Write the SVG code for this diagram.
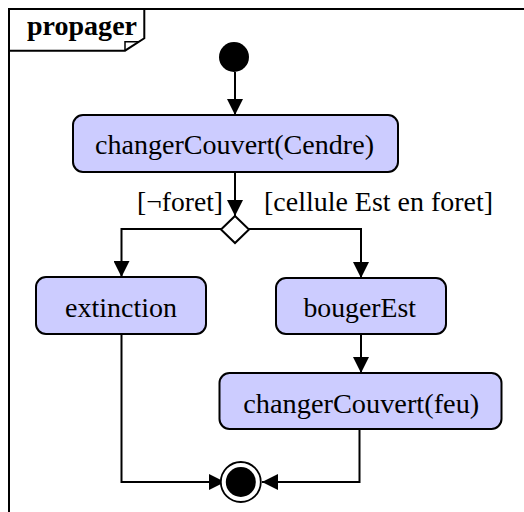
<svg xmlns="http://www.w3.org/2000/svg" width="524" height="512" viewBox="0 0 524 512">
<style>
.act{fill:#ccccff;stroke:#000;stroke-width:2}
.t{font-family:'Liberation Serif','Times New Roman',serif;font-size:28px;fill:#000}
.c{fill:none;stroke:#000;stroke-width:2}
</style>
<defs>
<marker id="ah" markerUnits="userSpaceOnUse" markerWidth="16" markerHeight="16" viewBox="0 0 14 14" refX="14" refY="7" orient="auto">
<path d="M0,0 L14,7 L0,14 Z" fill="#000"/>
</marker>
</defs>
<rect width="524" height="512" fill="#fff"/>
<g id="frame">
<rect x="9" y="9" width="620" height="620" fill="none" stroke="#000" stroke-width="2"/>
<path d="M9,50.7 H125 L144.3,38.3 V9" fill="none" stroke="#000" stroke-width="2"/>
<path d="M125,50.7 V41.7 H138.8" fill="none" stroke="#000" stroke-width="1.5"/>
<text x="27" y="35" class="t" font-weight="bold" textLength="110" lengthAdjust="spacingAndGlyphs">propager</text>
</g>
<g id="connectors">
<path class="c" d="M235,72 V115" marker-end="url(#ah)"/>
<path class="c" d="M235,172 V216" marker-end="url(#ah)"/>
<path class="c" d="M221,229 H121.5 V277" marker-end="url(#ah)"/>
<path class="c" d="M249,229 H361 V278" marker-end="url(#ah)"/>
<path class="c" d="M361,334 V373" marker-end="url(#ah)"/>
<path class="c" d="M121.5,334 V482 H225" marker-end="url(#ah)"/>
<path class="c" d="M359.5,429 V482 H262" marker-end="url(#ah)"/>
<text x="137" y="211" class="t" textLength="86" lengthAdjust="spacingAndGlyphs">[¬foret]</text>
<text x="264" y="211" class="t" textLength="229" lengthAdjust="spacingAndGlyphs">[cellule Est en foret]</text>
</g>
<g id="initial">
<circle cx="234" cy="57" r="15" fill="#000"/>
</g>
<g id="changerCouvertCendre">
<rect x="73" y="115" width="325" height="57" rx="10" class="act"/>
<text x="95" y="154" class="t" textLength="279" lengthAdjust="spacingAndGlyphs">changerCouvert(Cendre)</text>
</g>
<g id="decision">
<path d="M235,216 L249,229.5 L235,243 L221,229.5 Z" fill="#fff" stroke="#000" stroke-width="2"/>
</g>
<g id="extinction">
<rect x="36" y="277" width="170" height="57" rx="10" class="act"/>
<text x="65" y="317" class="t" textLength="112" lengthAdjust="spacingAndGlyphs">extinction</text>
</g>
<g id="bougerEst">
<rect x="276" y="278" width="170" height="56" rx="10" class="act"/>
<text x="303.5" y="317" class="t" textLength="112.5" lengthAdjust="spacingAndGlyphs">bougerEst</text>
</g>
<g id="changerCouvertFeu">
<rect x="219.5" y="373" width="282" height="56" rx="10" class="act"/>
<text x="243.3" y="413" class="t" textLength="236" lengthAdjust="spacingAndGlyphs">changerCouvert(feu)</text>
</g>
<g id="final">
<circle cx="240.8" cy="482" r="20" fill="#fff" stroke="#000" stroke-width="1.8"/>
<circle cx="240.8" cy="482" r="15" fill="#000"/>
</g>
</svg>
